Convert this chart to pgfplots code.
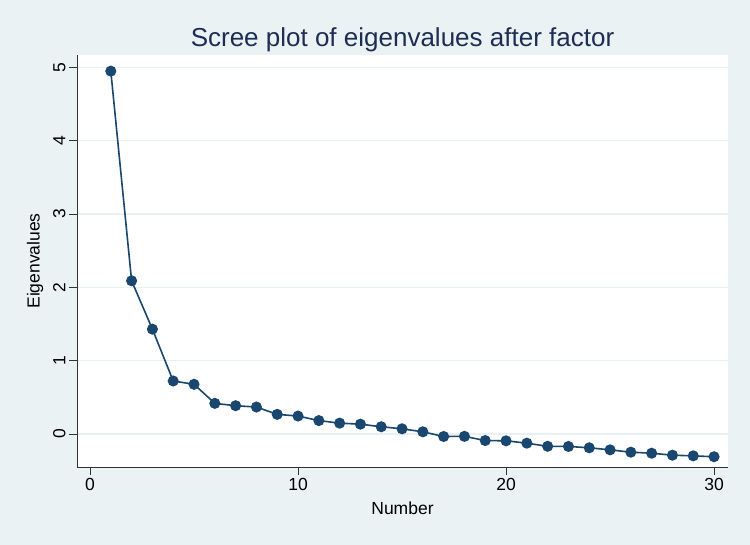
\documentclass[border=0pt]{standalone}
\usepackage{pgfplots}
\pgfplotsset{compat=1.18}
\usepackage{fontspec}
\setmainfont{Liberation Sans}
\definecolor{bgc}{RGB}{234,242,243}
\definecolor{gridc}{RGB}{232,240,241}
\definecolor{navy}{RGB}{26,71,111}
\definecolor{titlec}{RGB}{30,45,83}
\begin{document}
\begin{tikzpicture}
\fill[bgc] (0,0) rectangle (750pt,545pt);
\begin{axis}[
  at={(77pt,78pt)}, anchor=south west,
  scale only axis, width=651pt, height=412pt,
  xmin=-0.625, xmax=30.67, ymin=-0.45, ymax=5.17,
  axis background/.style={fill=white},
  axis x line*=bottom, axis y line*=left,
  axis line style={draw=black!80, line width=0.8pt},
  xtick={0,10,20,30}, ytick={0,1,2,3,4,5},
  tick align=outside, major tick length=8pt,
  tick style={draw=black!80, line width=0.8pt},
  ymajorgrids, grid style={draw=gridc, line width=1.2pt},
  /pgf/number format/assume math mode=true,
  ticklabel style={font=\fontsize{17.5}{20}\selectfont},
  yticklabel style={rotate=90, anchor=south},
  label style={font=\fontsize{17.5}{20}\selectfont},
  xlabel={Number}, ylabel={Eigenvalues},
  xlabel style={at={(axis description cs:0.5,-0.1)}, anchor=center},
  ylabel style={at={(axis description cs:-0.0645,0.5)}, anchor=center},
  title={Scree plot of eigenvalues after factor},
  title style={font=\fontsize{26}{30}\selectfont, text=titlec, at={(axis description cs:0.5,1)}, anchor=base, yshift=2.5pt},
  clip=false,
]
\addplot[navy, line width=1.6pt, mark=*, mark size=4.7pt, mark options={fill=navy, draw=navy}] coordinates {
(1,4.95) (2,2.09) (3,1.43) (4,0.723) (5,0.678) (6,0.418) (7,0.386) (8,0.368) (9,0.268) (10,0.245)
(11,0.183) (12,0.148) (13,0.134) (14,0.099) (15,0.071) (16,0.030) (17,-0.034) (18,-0.032) (19,-0.089) (20,-0.093)
(21,-0.125) (22,-0.168) (23,-0.170) (24,-0.188) (25,-0.216) (26,-0.248) (27,-0.262) (28,-0.289) (29,-0.298) (30,-0.31)
};
\end{axis}
\pgfresetboundingbox
\path (0,0) rectangle (750pt,545pt);
\end{tikzpicture}
\end{document}
